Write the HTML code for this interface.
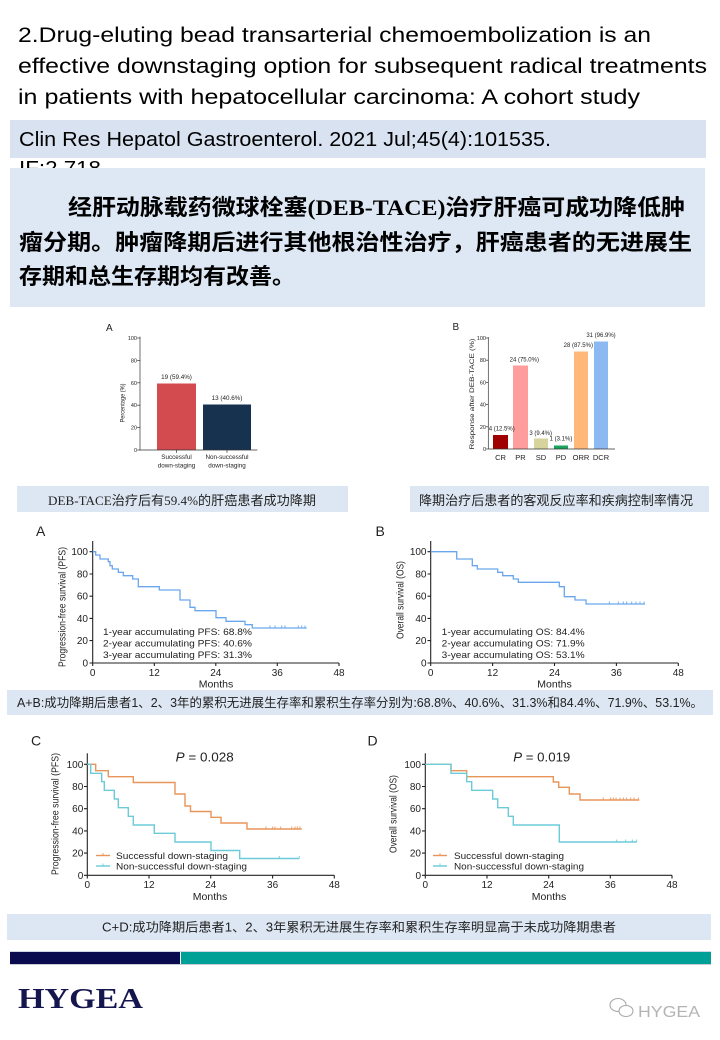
<!DOCTYPE html>
<html><head><meta charset="utf-8"><style>
html,body{margin:0;padding:0;background:#fff;}
svg{display:block;}
text{font-family:"Liberation Sans",Arial,sans-serif;}
.cjk{font-family:"Liberation Sans","Noto Sans CJK SC",sans-serif;}
text.serif{font-family:"Liberation Serif",serif;}
</style></head><body>
<svg width="720" height="1040" viewBox="0 0 720 1040" xmlns="http://www.w3.org/2000/svg">
<rect width="720" height="1040" fill="#fff"/>
<!-- Title -->
<g font-size="21" fill="#000">
<text x="18" y="42" textLength="633" lengthAdjust="spacingAndGlyphs">2.Drug-eluting bead transarterial chemoembolization is an</text>
<text x="18" y="73" textLength="689" lengthAdjust="spacingAndGlyphs">effective downstaging option for subsequent radical treatments</text>
<text x="18" y="104" textLength="622" lengthAdjust="spacingAndGlyphs">in patients with hepatocellular carcinoma: A cohort study</text>
</g>
<!-- citation -->
<text x="19" y="175" font-size="20" fill="#000" textLength="82" lengthAdjust="spacingAndGlyphs">IF:2.718</text>
<rect x="10" y="120" width="696" height="38" fill="#d9e2f1"/>
<text x="19" y="146" font-size="20" fill="#000" textLength="532" lengthAdjust="spacingAndGlyphs">Clin Res Hepatol Gastroenterol. 2021 Jul;45(4):101535.</text>
<!-- Chinese summary box -->
<rect x="10" y="168" width="695" height="139" fill="#dde8f4"/>
<g font-size="22" font-weight="bold" fill="#000">
<text class="cjk" x="68" y="215" textLength="617" lengthAdjust="spacingAndGlyphs">经肝动脉载药微球栓塞<tspan font-family="Liberation Serif,serif">(DEB-TACE)</tspan>治疗肝癌可成功降低肿</text>
<text class="cjk" x="19" y="250" textLength="673" lengthAdjust="spacingAndGlyphs">瘤分期。肿瘤降期后进行其他根治性治疗，肝癌患者的无进展生</text>
<text class="cjk" x="19" y="284" textLength="276" lengthAdjust="spacingAndGlyphs">存期和总生存期均有改善。</text>
</g>

<!-- Bar chart A -->
<g font-size="5.5" fill="#222" stroke-linecap="square">
<text x="106" y="331" font-size="10">A</text>
<rect x="157" y="383.5" width="39" height="66.5" fill="#d34a4f"/>
<rect x="203" y="404.5" width="48" height="45.5" fill="#16324f"/>
<g stroke="#333" stroke-width="0.7">
<line x1="140" y1="337" x2="140" y2="450"/>
<line x1="140" y1="450" x2="257" y2="450"/>
<line x1="137.5" y1="338" x2="140" y2="338"/>
<line x1="137.5" y1="360.4" x2="140" y2="360.4"/>
<line x1="137.5" y1="382.8" x2="140" y2="382.8"/>
<line x1="137.5" y1="405.2" x2="140" y2="405.2"/>
<line x1="137.5" y1="427.6" x2="140" y2="427.6"/>
<line x1="137.5" y1="450" x2="140" y2="450"/>
<line x1="176.5" y1="450" x2="176.5" y2="452.5"/>
<line x1="227" y1="450" x2="227" y2="452.5"/>
</g>
<g text-anchor="end">
<text x="137" y="340">100</text><text x="137" y="362.4">80</text><text x="137" y="384.8">60</text>
<text x="137" y="407.2">40</text><text x="137" y="429.6">20</text><text x="137" y="452">0</text>
</g>
<g text-anchor="middle" font-size="6.3">
<text x="176.5" y="379">19 (59.4%)</text>
<text x="227" y="400">13 (40.6%)</text>
<text x="176.5" y="459">Successful</text>
<text x="176.5" y="467.5">down-staging</text>
<text x="227" y="459">Non-successful</text>
<text x="227" y="467.5">down-staging</text>
</g>
<text transform="translate(124.5,403) rotate(-90)" text-anchor="middle" font-size="6.5" textLength="39" lengthAdjust="spacingAndGlyphs">Percentage (%)</text>
</g>

<!-- Bar chart B -->
<g font-size="5.5" fill="#222">
<text x="452.5" y="330" font-size="10">B</text>
<rect x="493" y="435" width="15" height="14" fill="#a00000"/>
<rect x="513" y="365.5" width="15" height="83.5" fill="#ff9d9d"/>
<rect x="534" y="438.5" width="14" height="10.5" fill="#d6d49c"/>
<rect x="554" y="445.5" width="14" height="3.5" fill="#1aa35f"/>
<rect x="574" y="351.5" width="14" height="97.5" fill="#ffb878"/>
<rect x="594" y="341.5" width="14" height="107.5" fill="#8db9f2"/>
<g stroke="#333" stroke-width="0.7">
<line x1="488.3" y1="337" x2="488.3" y2="449"/>
<line x1="488.3" y1="449" x2="615" y2="449"/>
<line x1="486" y1="338" x2="488.3" y2="338"/>
<line x1="486" y1="360.2" x2="488.3" y2="360.2"/>
<line x1="486" y1="382.4" x2="488.3" y2="382.4"/>
<line x1="486" y1="404.6" x2="488.3" y2="404.6"/>
<line x1="486" y1="426.8" x2="488.3" y2="426.8"/>
<line x1="486" y1="449" x2="488.3" y2="449"/>
</g>
<g text-anchor="end">
<text x="486" y="340">100</text><text x="486" y="362.2">80</text><text x="486" y="384.4">60</text>
<text x="486" y="406.6">40</text><text x="486" y="428.8">20</text><text x="486" y="451">0</text>
</g>
<g text-anchor="middle" font-size="6">
<text x="501.7" y="430.5">4 (12.5%)</text>
<text x="524.3" y="361.5">24 (75.0%)</text>
<text x="540.7" y="435">3 (9.4%)</text>
<text x="561" y="440.5">1 (3.1%)</text>
<text x="578.3" y="347">28 (87.5%)</text>
<text x="601" y="337">31 (96.9%)</text>
</g>
<g text-anchor="middle" font-size="7.5">
<text x="500.5" y="460">CR</text><text x="520.5" y="460">PR</text><text x="541" y="460">SD</text>
<text x="561" y="460">PD</text><text x="581" y="460">ORR</text><text x="601" y="460">DCR</text>
</g>
<text transform="translate(474,394) rotate(-90)" text-anchor="middle" font-size="6.5" textLength="111" lengthAdjust="spacingAndGlyphs">Response after DEB-TACE (%)</text>
</g>

<!-- Caption boxes row 1 -->
<rect x="17" y="486" width="331" height="26" fill="#dde7f3"/>
<text class="cjk" x="48" y="505" font-size="13" fill="#222" textLength="268" lengthAdjust="spacingAndGlyphs"><tspan font-family="Liberation Serif,serif">DEB-TACE</tspan>治疗后有<tspan font-family="Liberation Serif,serif">59.4%</tspan>的肝癌患者成功降期</text>
<rect x="410" y="486" width="299" height="26" fill="#dde7f3"/>
<text class="cjk" x="419" y="505" font-size="13" fill="#222" textLength="274" lengthAdjust="spacingAndGlyphs">降期治疗后患者的客观反应率和疾病控制率情况</text>

<!-- KM chart A -->
<g fill="#222" font-size="10">
<text x="36" y="536" font-size="14">A</text>
<g stroke="#222" stroke-width="1.1" fill="none">
<line x1="92.7" y1="541" x2="92.7" y2="663"/>
<line x1="92.7" y1="663" x2="339" y2="663"/>
<path d="M89.5 551.7H92.7M89.5 574H92.7M89.5 596.2H92.7M89.5 618.4H92.7M89.5 640.6H92.7M89.5 663H92.7M92.7 663V666M154.3 663V666M215.8 663V666M277.3 663V666M339 663V666"/>
</g>
<g text-anchor="end">
<text x="88" y="555.2">100</text><text x="88" y="577.5">80</text><text x="88" y="599.7">60</text>
<text x="88" y="621.9">40</text><text x="88" y="644.1">20</text><text x="88" y="666.5">0</text>
</g>
<g text-anchor="middle">
<text x="92.7" y="676">0</text><text x="154.3" y="676">12</text><text x="215.8" y="676">24</text>
<text x="277.3" y="676">36</text><text x="339" y="676">48</text>
<text x="216" y="687.5" font-size="10.5">Months</text>
</g>
<text transform="translate(65.5,607) rotate(-90)" text-anchor="middle" font-size="10" textLength="120" lengthAdjust="spacingAndGlyphs">Progression-free survival (PFS)</text>
<path fill="none" stroke="#6aa6ee" stroke-width="1.3" d="M92.7,551.7 H95.7 V555 H100 V559 H108.3 V561.7 H110 V565.7 H112.3 V569 H118.3 V572.3 H123.3 V575.7 H132.7 V579 H138.3 V586.7 H159.3 V590 H180 V600 H190 V607.3 H195 V610.7 H216 V617.7 H226 V621.3 H245 V624.7 H252.3 V628 H306.7"/>
<path stroke="#6aa6ee" stroke-width="0.9" d="M270 625.5V628M275 625.5V628M281.7 625.5V628M285 625.5V628M298.3 625.5V628M301.7 625.5V628M305 625.5V628"/>
<g font-size="9.5">
<text x="103" y="635" textLength="149" lengthAdjust="spacingAndGlyphs">1-year accumulating PFS: 68.8%</text>
<text x="103" y="646.5" textLength="149" lengthAdjust="spacingAndGlyphs">2-year accumulating PFS: 40.6%</text>
<text x="103" y="658" textLength="149" lengthAdjust="spacingAndGlyphs">3-year accumulating PFS: 31.3%</text>
</g>
</g>

<!-- KM chart B -->
<g fill="#222" font-size="10">
<text x="375.5" y="536" font-size="14">B</text>
<g stroke="#222" stroke-width="1.1" fill="none">
<line x1="430.7" y1="541" x2="430.7" y2="663"/>
<line x1="430.7" y1="663" x2="678.3" y2="663"/>
<path d="M427.5 551.7H430.7M427.5 574H430.7M427.5 596.2H430.7M427.5 618.4H430.7M427.5 640.6H430.7M427.5 663H430.7M430.7 663V666M492.6 663V666M554.5 663V666M616.4 663V666M678.3 663V666"/>
</g>
<g text-anchor="end">
<text x="426.5" y="555.2">100</text><text x="426.5" y="577.5">80</text><text x="426.5" y="599.7">60</text>
<text x="426.5" y="621.9">40</text><text x="426.5" y="644.1">20</text><text x="426.5" y="666.5">0</text>
</g>
<g text-anchor="middle">
<text x="430.7" y="676">0</text><text x="492.6" y="676">12</text><text x="554.5" y="676">24</text>
<text x="616.4" y="676">36</text><text x="678.3" y="676">48</text>
<text x="554.5" y="687.5" font-size="10.5">Months</text>
</g>
<text transform="translate(403.5,600) rotate(-90)" text-anchor="middle" font-size="10" textLength="78" lengthAdjust="spacingAndGlyphs">Overall survival (OS)</text>
<path fill="none" stroke="#6aa6ee" stroke-width="1.3" d="M430.7,551.7 H456.7 V559 H472.3 V565.7 H477.3 V569 H497.7 V572.3 H502.7 V575.7 H513.3 V579 H518.3 V582.3 H559.3 V586.7 H564.3 V596.7 H575 V600 H586 V604 H645"/>
<path stroke="#6aa6ee" stroke-width="0.9" d="M609.3 601.5V604M618.3 601.5V604M623.3 601.5V604M626.7 601.5V604M631.7 601.5V604M636 601.5V604M640 601.5V604M644 601.5V604"/>
<g font-size="9.5">
<text x="441.7" y="635" textLength="143" lengthAdjust="spacingAndGlyphs">1-year accumulating OS: 84.4%</text>
<text x="441.7" y="646.5" textLength="143" lengthAdjust="spacingAndGlyphs">2-year accumulating OS: 71.9%</text>
<text x="441.7" y="658" textLength="143" lengthAdjust="spacingAndGlyphs">3-year accumulating OS: 53.1%</text>
</g>
</g>

<!-- A+B caption -->
<rect x="7" y="690" width="706" height="25" fill="#dde7f3"/>
<text class="cjk" x="17" y="707" font-size="12.5" fill="#222" textLength="686" lengthAdjust="spacingAndGlyphs">A+B:成功降期后患者1、2、3年的累积无进展生存率和累积生存率分别为:68.8%、40.6%、31.3%和84.4%、71.9%、53.1%。</text>

<!-- KM chart C -->
<g fill="#222" font-size="10">
<text x="31" y="745.5" font-size="14">C</text>
<g stroke="#222" stroke-width="1.1" fill="none">
<line x1="87.3" y1="753.3" x2="87.3" y2="875.3"/>
<line x1="87.3" y1="875.3" x2="334.3" y2="875.3"/>
<path d="M84 764.3H87.3M84 786.5H87.3M84 808.7H87.3M84 830.9H87.3M84 853.1H87.3M84 875.3H87.3M87.3 875.3V878.5M149 875.3V878.5M210.7 875.3V878.5M272.6 875.3V878.5M334.3 875.3V878.5"/>
</g>
<g text-anchor="end">
<text x="83.3" y="767.8">100</text><text x="83.3" y="790">80</text><text x="83.3" y="812.2">60</text>
<text x="83.3" y="834.4">40</text><text x="83.3" y="856.6">20</text><text x="83.3" y="878.8">0</text>
</g>
<g text-anchor="middle">
<text x="87.3" y="888">0</text><text x="149" y="888">12</text><text x="210.7" y="888">24</text>
<text x="272.6" y="888">36</text><text x="334.3" y="888">48</text>
<text x="210" y="900" font-size="10.5">Months</text>
</g>
<text transform="translate(58.5,814) rotate(-90)" text-anchor="middle" font-size="10" textLength="122" lengthAdjust="spacingAndGlyphs">Progression-free survival (PFS)</text>
<text x="175.7" y="761.5" font-size="13" textLength="58" lengthAdjust="spacingAndGlyphs"><tspan font-style="italic">P</tspan> = 0.028</text>
<path fill="none" stroke="#e8955a" stroke-width="1.4" d="M87.3,764.3 H95.7 V770.7 H108.3 V776.7 H133.3 V782.5 H175 V794 H185 V806 H190.5 V811.5 H211 V817.3 H221 V823 H247 V829 H301.7"/>
<path stroke="#e8955a" stroke-width="0.9" d="M266 826.5V829M272.7 826.5V829M275 826.5V829M280.7 826.5V829M291.7 826.5V829M295 826.5V829M297.3 826.5V829M300 826.5V829"/>
<path fill="none" stroke="#6ccbd9" stroke-width="1.4" d="M87.3,764.3 H90.7 V773.3 H101.7 V781.7 H104.3 V790.3 H114.3 V799 H118.3 V807.7 H128.3 V816.3 H133.3 V825 H154.3 V833.3 H175 V842 H211 V850.5 H239.7 V858.5 H299.3"/>
<path stroke="#6ccbd9" stroke-width="0.9" d="M279.3 856V858.5M299.3 856V858.5"/>
<path stroke="#e8955a" stroke-width="1.4" d="M96 855.5H110"/><path stroke="#e8955a" stroke-width="0.9" d="M103 853V855.5"/>
<path stroke="#6ccbd9" stroke-width="1.4" d="M96 866H110"/><path stroke="#6ccbd9" stroke-width="0.9" d="M103 863.5V866"/>
<text x="116" y="859" font-size="9.5" textLength="112" lengthAdjust="spacingAndGlyphs">Successful down-staging</text>
<text x="116" y="869.5" font-size="9.5" textLength="131" lengthAdjust="spacingAndGlyphs">Non-successful down-staging</text>
</g>

<!-- KM chart D -->
<g fill="#222" font-size="10">
<text x="367.5" y="745.5" font-size="14">D</text>
<g stroke="#222" stroke-width="1.1" fill="none">
<line x1="425.3" y1="753.3" x2="425.3" y2="875.3"/>
<line x1="425.3" y1="875.3" x2="672" y2="875.3"/>
<path d="M422 764.3H425.3M422 786.5H425.3M422 808.7H425.3M422 830.9H425.3M422 853.1H425.3M422 875.3H425.3M425.3 875.3V878.5M487 875.3V878.5M548.7 875.3V878.5M610.3 875.3V878.5M672 875.3V878.5"/>
</g>
<g text-anchor="end">
<text x="421" y="767.8">100</text><text x="421" y="790">80</text><text x="421" y="812.2">60</text>
<text x="421" y="834.4">40</text><text x="421" y="856.6">20</text><text x="421" y="878.8">0</text>
</g>
<g text-anchor="middle">
<text x="425.3" y="888">0</text><text x="487" y="888">12</text><text x="548.7" y="888">24</text>
<text x="610.3" y="888">36</text><text x="672" y="888">48</text>
<text x="549" y="900" font-size="10.5">Months</text>
</g>
<text transform="translate(396.5,814) rotate(-90)" text-anchor="middle" font-size="10" textLength="78" lengthAdjust="spacingAndGlyphs">Overall survival (OS)</text>
<text x="513.3" y="761.5" font-size="13" textLength="57" lengthAdjust="spacingAndGlyphs"><tspan font-style="italic">P</tspan> = 0.019</text>
<path fill="none" stroke="#e8955a" stroke-width="1.4" d="M425.3,764.3 H451 V770.7 H466.7 V776.7 H553.3 V782 H558.7 V787.3 H569.3 V794 H580 V800 H639.3"/>
<path stroke="#e8955a" stroke-width="0.9" d="M603.3 797.5V800M610.7 797.5V800M613.3 797.5V800M616 797.5V800M620 797.5V800M623.3 797.5V800M626.7 797.5V800M630.7 797.5V800M634 797.5V800M638.3 797.5V800"/>
<path fill="none" stroke="#6ccbd9" stroke-width="1.4" d="M425.3,764.3 H451 V773.3 H466.7 V781.7 H471.7 V790.3 H492.7 V799 H497.7 V807.7 H508.3 V816.3 H513.3 V825 H559.3 V842 H636.7"/>
<path stroke="#6ccbd9" stroke-width="0.9" d="M616.7 839.5V842M625.7 839.5V842M632.3 839.5V842M636.7 839.5V842"/>
<path stroke="#e8955a" stroke-width="1.4" d="M433 855.5H447"/><path stroke="#e8955a" stroke-width="0.9" d="M440 853V855.5"/>
<path stroke="#6ccbd9" stroke-width="1.4" d="M433 866H447"/><path stroke="#6ccbd9" stroke-width="0.9" d="M440 863.5V866"/>
<text x="454" y="859" font-size="9.5" textLength="110" lengthAdjust="spacingAndGlyphs">Successful down-staging</text>
<text x="454" y="869.5" font-size="9.5" textLength="130" lengthAdjust="spacingAndGlyphs">Non-successful down-staging</text>
</g>

<!-- C+D caption -->
<rect x="7" y="914" width="704" height="26" fill="#dde7f3"/>
<text class="cjk" x="102" y="931.5" font-size="12.5" fill="#222" textLength="514" lengthAdjust="spacingAndGlyphs">C+D:成功降期后患者1、2、3年累积无进展生存率和累积生存率明显高于未成功降期患者</text>

<!-- Footer bar -->
<rect x="10" y="951" width="701" height="1" fill="#cdd8e4"/>
<rect x="10" y="952" width="170" height="12" fill="#0a0a4f"/>
<rect x="181" y="952" width="530" height="12" fill="#00a096"/>
<rect x="10" y="964" width="701" height="1" fill="#c8ccd4"/>

<!-- Logo -->
<text class="serif" x="18" y="1008" font-weight="bold" font-size="29" fill="#16164f" textLength="125" lengthAdjust="spacingAndGlyphs">HYGEA</text>

<!-- Watermark -->
<g fill="none" stroke="#a8a8a8" stroke-width="1.1">
<ellipse cx="618" cy="1005" rx="8" ry="6.5"/>
<ellipse cx="626" cy="1011" rx="7" ry="5.5" fill="#fff"/>
</g>
<text x="638" y="1017" font-size="16" fill="#b4b4b4" textLength="62" lengthAdjust="spacingAndGlyphs">HYGEA</text>
</svg>
</body></html>
